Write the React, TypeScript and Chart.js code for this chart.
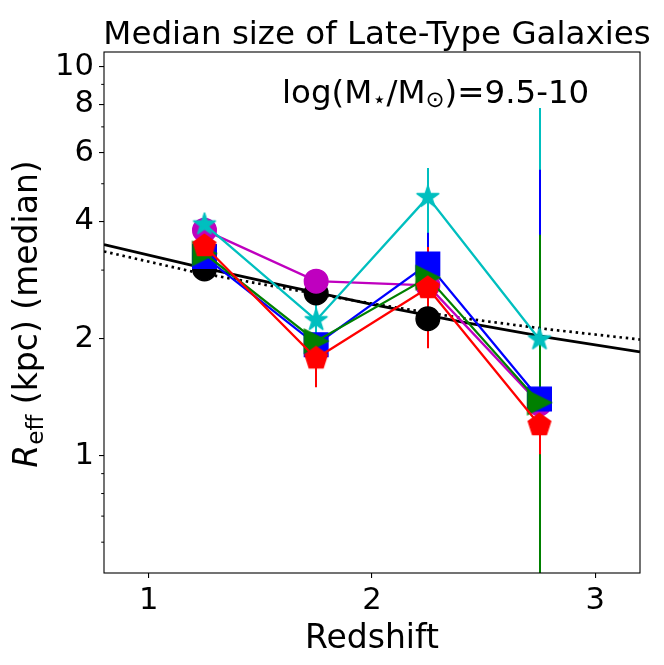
import React, { useEffect, useRef } from 'react';
import { Chart, registerables } from 'chart.js';

Chart.register(...registerables);

// ---------------- data ----------------
const redshifts = [1.25, 1.75, 2.25, 2.75];

const blackR = [3.02, 2.62, 2.25];
const magentaR = [3.80, 2.81, 2.74, 1.36];
const cyanR = [3.93, 2.23, 4.62, 1.99];
const blueR = [3.25, 1.93, 3.11, 1.40];
const greenR = [3.31, 1.97, 2.87, 1.37];
const redR = [3.46, 1.78, 2.70, 1.20];

// error bar extents [low, high] per redshift (null = none)
const cyanErr: (number[] | null)[] = [null, [1.95, 2.6], [3.5, 5.49], [1.0, 7.83]];
const blueErr: (number[] | null)[] = [null, null, [2.6, 3.74], [1.0, 5.43]];
const greenErr: (number[] | null)[] = [null, null, null, [0.3, 3.70]];
const redErr: (number[] | null)[] = [null, [1.50, 2.05], [1.89, 3.44], [1.01, 1.45]];

// fitted relations
const fitZ = [0.8, 1.2, 1.6, 2.0, 2.4, 2.8, 3.2];
const fitSolid = [3.49, 3.08, 2.74, 2.45, 2.21, 2.01, 1.85];
const fitDotted = [3.35, 2.97, 2.70, 2.46, 2.26, 2.11, 1.99];

const xTicks = [1, 2, 3];
const yTicksLabeled = [1, 2, 4, 6, 8, 10];
const yTicksMinor = [0.6, 0.7, 0.8, 0.9, 3, 5, 7, 9];

const titleText = 'Median size of Late-Type Galaxies';
const xLabel = 'Redshift';

// ---------------- styling ----------------
const FONT = '"DejaVu Sans", "Liberation Sans", sans-serif';
const C_K = '#000000';
const C_M = '#bf00bf';
const C_C = '#00bfbf';
const C_B = '#0000ff';
const C_G = '#008000';
const C_R = '#ff0000';
const MS = 23.6; // marker size px
const EDGE = 1.4;
const LW = 2.3;
const ELW = 2;

function makeMarker(kind: 'tri' | 'pent' | 'star', color: string): HTMLCanvasElement {
  const S = 32;
  const c = document.createElement('canvas');
  c.width = S;
  c.height = S;
  const ctx = c.getContext('2d')!;
  const cx = S / 2;
  const cy = S / 2;
  const h = MS / 2;
  ctx.beginPath();
  if (kind === 'tri') {
    ctx.moveTo(cx + h, cy);
    ctx.lineTo(cx - h, cy - h);
    ctx.lineTo(cx - h, cy + h);
  } else if (kind === 'pent') {
    for (let i = 0; i < 5; i++) {
      const a = (-90 + 72 * i) * Math.PI / 180;
      const px = cx + h * Math.cos(a);
      const py = cy + h * Math.sin(a);
      if (i === 0) ctx.moveTo(px, py); else ctx.lineTo(px, py);
    }
  } else {
    for (let i = 0; i < 10; i++) {
      const a = (-90 + 36 * i) * Math.PI / 180;
      const r = i % 2 === 0 ? h : h * 0.381966;
      const px = cx + r * Math.cos(a);
      const py = cy + r * Math.sin(a);
      if (i === 0) ctx.moveTo(px, py); else ctx.lineTo(px, py);
    }
  }
  ctx.closePath();
  ctx.fillStyle = color;
  ctx.fill();
  ctx.lineWidth = EDGE;
  ctx.lineJoin = kind === 'star' ? 'bevel' : 'miter';
  ctx.strokeStyle = color;
  ctx.stroke();
  return c;
}

const errSeries = [
  { err: cyanErr, color: C_C },
  { err: blueErr, color: C_B },
  { err: greenErr, color: C_G },
  { err: redErr, color: C_R },
];

const errorBarPlugin = {
  id: 'errorBars',
  beforeDatasetsDraw(chart: any) {
    const { ctx, chartArea, scales } = chart;
    const x = scales.x;
    const y = scales.y;
    ctx.save();
    ctx.beginPath();
    ctx.rect(chartArea.left, chartArea.top, chartArea.right - chartArea.left, chartArea.bottom - chartArea.top);
    ctx.clip();
    ctx.lineWidth = ELW;
    ctx.lineCap = 'butt';
    errSeries.forEach(({ err, color }) => {
      ctx.strokeStyle = color;
      err.forEach((e, i) => {
        if (!e) return;
        // snap to whole pixels so the overlapping bars stay crisp
        const px = Math.round(x.getPixelForValue(redshifts[i]));
        ctx.beginPath();
        ctx.moveTo(px, y.getPixelForValue(e[0]));
        ctx.lineTo(px, y.getPixelForValue(e[1]));
        ctx.stroke();
      });
    });
    ctx.restore();
  },
};

const decorPlugin = {
  id: 'decor',
  afterDatasetsDraw(chart: any) {
    const { ctx, chartArea } = chart;
    const { left, top, right, bottom } = chartArea;
    ctx.save();
    ctx.strokeStyle = '#000';
    ctx.lineWidth = 1.1;
    ctx.strokeRect(left, top, right - left, bottom - top);
    ctx.restore();
  },
  afterDraw(chart: any) {
    const { ctx, chartArea, scales } = chart;
    const { left, right } = chartArea;
    const y = scales.y;
    ctx.save();
    // minor ticks
    ctx.strokeStyle = '#000';
    ctx.lineWidth = 1.0;
    yTicksMinor.forEach((v) => {
      const py = y.getPixelForValue(v);
      ctx.beginPath();
      ctx.moveTo(left - 2.8, py);
      ctx.lineTo(left, py);
      ctx.stroke();
    });

    ctx.fillStyle = '#000';
    ctx.textBaseline = 'alphabetic';

    // title
    ctx.font = `32.5px ${FONT}`;
    ctx.textAlign = 'center';
    ctx.fillText(titleText, (left + right) / 2 + 5, 44);

    // annotation log(M*/Msun)=9.5-10
    ctx.textAlign = 'left';
    const F = 32.5;
    const Fs = F * 0.7;
    const sub = 4;
    let ax = left + 178;
    const ay = 103;
    const parts: [string, number, number][] = [
      ['log(M', F, 0],
      ['\u22C6', Fs, sub],
      ['/M', F, 0],
      ['\u2299', Fs, sub],
      [')=9.5-10', F, 0],
    ];
    parts.forEach(([t, s, dy]) => {
      ctx.font = `${s}px ${FONT}`;
      ctx.fillText(t, ax, ay + dy);
      ax += ctx.measureText(t).width;
    });

    // y-axis label: R_eff (kpc) (median)
    const LF = 33;
    const LFs = LF * 0.7;
    ctx.font = `italic ${LF}px ${FONT}`;
    const wR = ctx.measureText('R').width;
    ctx.font = `${LFs}px ${FONT}`;
    const wE = ctx.measureText('eff').width;
    ctx.font = `${LF}px ${FONT}`;
    const rest = ' (kpc) (median)';
    const wRest = ctx.measureText(rest).width;
    const total = wR + wE + wRest;
    ctx.translate(37, 314);
    ctx.rotate(-Math.PI / 2);
    let lx = -total / 2;
    ctx.font = `italic ${LF}px ${FONT}`;
    ctx.fillText('R', lx, 0);
    lx += wR;
    ctx.font = `${LFs}px ${FONT}`;
    ctx.fillText('eff', lx, 6);
    lx += wE;
    ctx.font = `${LF}px ${FONT}`;
    ctx.fillText(rest, lx, 0);
    ctx.restore();
  },
};

function pts(ys: number[], xs: number[] = redshifts) {
  return ys.map((v, i) => ({ x: xs[i], y: v }));
}

export default function App() {
  const ref = useRef<HTMLCanvasElement | null>(null);

  useEffect(() => {
    if (!ref.current) return;
    const tri = makeMarker('tri', C_G);
    const pent = makeMarker('pent', C_R);
    const star = makeMarker('star', C_C);

    const series = (data: number[], color: string, style: any, radius: number, order: number, showLine = true) => ({
      data: pts(data),
      showLine,
      borderColor: color,
      backgroundColor: color,
      borderWidth: LW,
      pointStyle: style,
      pointRadius: radius,
      pointBorderWidth: EDGE,
      pointBorderColor: color,
      pointBackgroundColor: color,
      tension: 0,
      order,
    });

    const chart = new Chart(ref.current, {
      type: 'scatter',
      data: {
        datasets: [
          {
            data: pts(fitSolid, fitZ),
            showLine: true,
            borderColor: C_K,
            borderWidth: 2.78,
            pointRadius: 0,
            order: 10,
          },
          {
            data: pts(fitDotted, fitZ),
            showLine: true,
            borderColor: C_K,
            borderWidth: 2.7,
            borderDash: [2.5, 3.8],
            pointRadius: 0,
            order: 9,
          },
          series(blackR, C_K, 'circle', MS / 2, 6, false),
          series(magentaR, C_M, 'circle', MS / 2, 5),
          series(cyanR, C_C, star, 12, 4),
          series(blueR, C_B, 'rect', MS / Math.SQRT2, 3),
          series(greenR, C_G, tri, 12, 2),
          series(redR, C_R, pent, 12, 1),
        ] as any,
      },
      options: {
        animation: false,
        responsive: false,
        events: [],
        layout: { padding: { left: 0, right: 24, top: 52, bottom: 0 } },
        plugins: {
          legend: { display: false },
          tooltip: { enabled: false },
          title: { display: false },
        },
        scales: {
          x: {
            type: 'linear',
            min: 0.8,
            max: 3.2,
            afterBuildTicks: (s: any) => {
              s.ticks = xTicks.map((v) => ({ value: v }));
            },
            afterFit: (s: any) => {
              s.height = 92;
            },
            ticks: {
              font: { family: FONT, size: 30.6 },
              color: '#000',
              padding: 5,
              maxRotation: 0,
              autoSkip: false,
              callback: (v: any) => String(v),
            },
            grid: {
              drawOnChartArea: false,
              drawTicks: true,
              tickLength: 5,
              color: '#000',
              lineWidth: 1.1,
            },
            border: { display: false },
            title: {
              display: true,
              text: xLabel,
              font: { family: FONT, size: 33 },
              color: '#000',
              padding: { top: 0, bottom: 6 },
            },
          },
          y: {
            type: 'logarithmic',
            min: 0.5,
            max: 10.9,
            afterBuildTicks: (s: any) => {
              s.ticks = [...yTicksMinor, ...yTicksLabeled]
                .sort((a, b) => a - b)
                .map((v) => ({ value: v }));
            },
            afterFit: (s: any) => {
              s.width = 104;
            },
            ticks: {
              font: { family: FONT, size: 30.6 },
              color: '#000',
              padding: 5,
              autoSkip: false,
              callback: (v: any) => (yTicksLabeled.includes(Number(v)) ? String(v) : ''),
            },
            grid: {
              drawOnChartArea: false,
              drawTicks: true,
              tickLength: 5,
              lineWidth: 1.1,
              color: (c: any) =>
                c.tick && yTicksLabeled.includes(c.tick.value) ? '#000' : 'rgba(0,0,0,0)',
            },
            border: { display: false },
          },
        },
      } as any,
      plugins: [errorBarPlugin, decorPlugin],
    });
    return () => chart.destroy();
  }, []);

  return (
    <div style={{ position: 'absolute', left: 0, top: 0, width: 664, height: 665, background: '#fff' }}>
      <canvas ref={ref} width={664} height={665} style={{ width: 664, height: 665, display: 'block' }} />
    </div>
  );
}
